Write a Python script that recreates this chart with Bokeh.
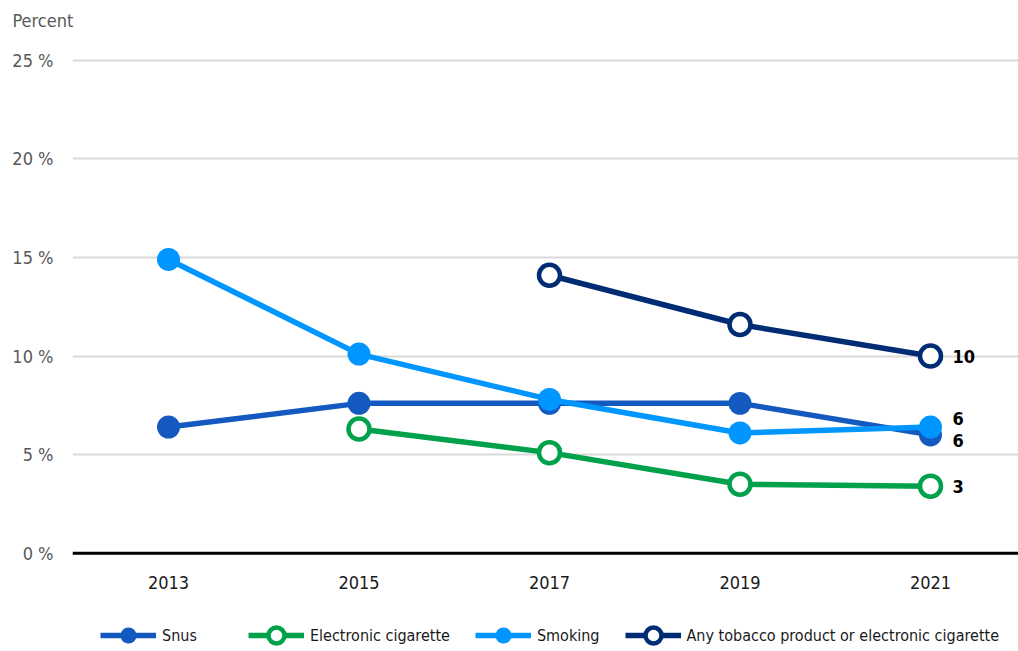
from bokeh.plotting import figure
from bokeh.models import (Range1d, FixedTicker, Legend, LegendItem, Title,
                          ColumnDataSource, Span)
from bokeh.core.properties import value
from bokeh.embed import file_html
from bokeh.resources import INLINE

FONT = "'DejaVu Sans Condensed', sans-serif"

# Survey years and shares (percent)
years = [2013, 2015, 2017, 2019, 2021]
snus_years = [2013, 2015, 2017, 2019, 2021]
snus = [6.4, 7.6, 7.6, 7.6, 6.0]
ecig_years = [2015, 2017, 2019, 2021]
ecig = [6.3, 5.1, 3.5, 3.4]
smoking_years = [2013, 2015, 2017, 2019, 2021]
smoking = [14.9, 10.1, 7.8, 6.1, 6.4]
any_years = [2017, 2019, 2021]
any_use = [14.1, 11.6, 10.0]

y_ticks = [0, 5, 10, 15, 20, 25]
y_tick_labels = ["0 %", "5 %", "10 %", "15 %", "20 %", "25 %"]
x_tick_labels = ["2013", "2015", "2017", "2019", "2021"]

series = [
    # name, xs, ys, colour, open marker, end-label vertical shift (px)
    ("Snus", snus_years, snus, "#1459C0", False, 6),
    ("Electronic cigarette", ecig_years, ecig, "#00A14B", True, 0),
    ("Smoking", smoking_years, smoking, "#0096FF", False, -9),
    ("Any tobacco product or electronic cigarette", any_years, any_use, "#002C73", True, 0),
]

# The frame runs down to the bottom edge; the year labels and the legend
# sit inside it, below the zero line.
p = figure(width=1018, height=651, output_backend="svg", toolbar_location=None,
           x_range=Range1d(2011.992, 2021.924), y_range=Range1d(-4.99, 25.96),
           min_border_left=72, min_border_right=0, min_border_top=0,
           min_border_bottom=0)
p.outline_line_color = None
p.background_fill_color = "white"
p.border_fill_color = "white"

p.title = Title(text="Percent", align="left", offset=-60, standoff=18,
                vertical_align="top",
                text_font=FONT, text_font_size="18px", text_font_style="normal",
                text_color="#595959")

p.xgrid.grid_line_color = None
p.ygrid.ticker = FixedTicker(ticks=y_ticks)
p.ygrid.grid_line_color = "#D9D9D9"
p.ygrid.grid_line_width = 2

p.yaxis.ticker = FixedTicker(ticks=y_ticks)
p.yaxis.major_label_overrides = dict(zip(y_ticks, y_tick_labels))
p.yaxis.axis_line_color = None
p.yaxis.major_tick_line_color = None
p.yaxis.minor_tick_line_color = None
p.yaxis.major_tick_out = 0
p.yaxis.major_label_standoff = 19
p.yaxis.major_label_text_font = FONT
p.yaxis.major_label_text_font_size = "18px"
p.yaxis.major_label_text_color = "#595959"

p.xaxis.visible = False

# zero line and year labels
p.add_layout(Span(location=0, dimension="width", line_color="black",
                  line_width=3))
p.text(x=years, y=[0] * len(years), text=x_tick_labels, y_offset=29,
       text_font=value(FONT), text_font_size="18px", text_color="#1a1a1a",
       text_align="center", text_baseline="middle")

items = []
for name, xs, ys, color, hollow, shift in series:
    src = ColumnDataSource(dict(x=xs, y=ys))
    ln = p.line("x", "y", source=src, line_color=color, line_width=5.5)
    if hollow:
        mk = p.scatter("x", "y", source=src, size=21, fill_color="white",
                       line_color=color, line_width=4.5)
    else:
        mk = p.scatter("x", "y", source=src, size=23, fill_color=color,
                       line_color=color, line_width=0)
    items.append(LegendItem(label=name, renderers=[ln, mk]))
    # value label at the last point
    end = ColumnDataSource(dict(x=[xs[-1]], y=[ys[-1]],
                                t=[f"{round(ys[-1]):d}"]))
    p.text("x", "y", text="t", source=end, x_offset=22, y_offset=shift,
           text_font=value(FONT), text_font_style="bold",
           text_font_size="18px", text_color="black",
           text_baseline="middle", text_align="left")

legend = Legend(items=items, orientation="horizontal", location=(28, -4),
                glyph_width=56, glyph_height=40, label_standoff=6, spacing=25,
                label_width=61, padding=0, margin=0,
                border_line_color=None, background_fill_alpha=0,
                label_text_font=FONT, label_text_font_size="16px",
                label_text_color="#1a1a1a")
p.add_layout(legend, "center")

open("out.html", "w").write(file_html(p, INLINE))
